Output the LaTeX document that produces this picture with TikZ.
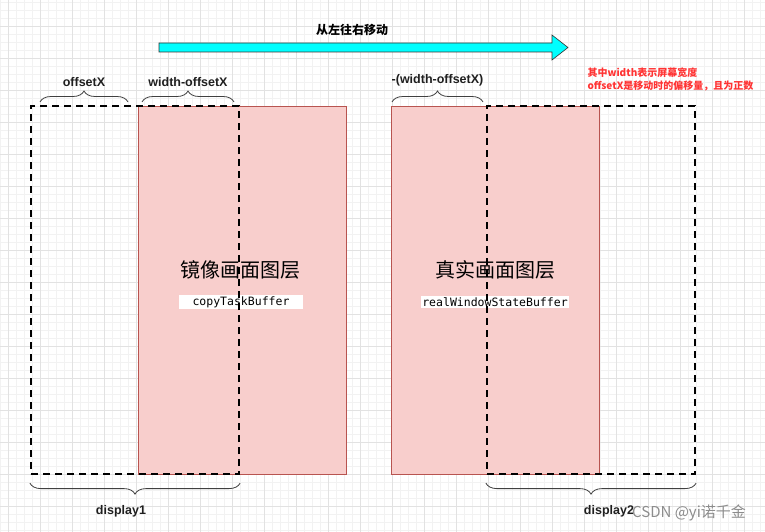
\documentclass[tikz,border=0pt]{standalone}
\usepackage{fontspec}
\setmainfont{Liberation Sans}
\newfontfamily\cjkfont{Noto Sans CJK SC}
\newfontfamily\monofont{DejaVu Sans Mono}
\usetikzlibrary{positioning,decorations.pathreplacing}
\definecolor{layerfill}{HTML}{F8CECC}
\definecolor{layerline}{HTML}{B85450}
\definecolor{gridminor}{HTML}{F2F2F2}
\definecolor{gridmajor}{HTML}{E2E2E2}
\definecolor{notered}{HTML}{FF3333}
\definecolor{arrowcyan}{HTML}{00FFFF}
\tikzset{
    layer/.style={
           rectangle,
           draw=layerline, fill=layerfill,
           minimum width=208pt, minimum height=368pt,
           inner sep=0pt,
           },
}
\tikzset{
    display/.style={
           rectangle,
           draw=black, line width=2.2pt,
           dash pattern=on 7pt off 5pt,
           minimum width=208pt, minimum height=368pt,
           inner sep=0pt,
           },
}
\tikzset{
    lbl/.style={font=\bfseries\fontsize{12.5}{14}\selectfont, text=black!88},
    title/.style={font=\cjkfont\fontsize{20}{24}\selectfont},
    buf/.style={font=\monofont\fontsize{11.5}{13}\selectfont, fill=white, inner sep=1.5pt, minimum width=124pt},
    brc/.style={decorate, decoration={brace, amplitude=11pt}, draw=black!75, line width=0.8pt},
}

\begin{document}
\begin{tikzpicture}[x=1pt,y=-1pt]
\useasboundingbox (0,0) rectangle (765,532);
% grid
\fill[white] (0,0) rectangle (765,532);
\foreach \i in {0,8,...,760} \draw[gridminor,line width=0.6pt] (\i,0) -- (\i,532);
\foreach \j in {2,10,...,530} \draw[gridminor,line width=0.6pt] (0,\j) -- (765,\j);
\foreach \i in {8,40,...,760} \draw[gridmajor,line width=0.8pt] (\i,0) -- (\i,532);
\foreach \j in {26,58,...,530} \draw[gridmajor,line width=0.8pt] (0,\j) -- (765,\j);

% moving arrow
\node[font=\cjkfont\bfseries\fontsize{12}{14}\selectfont] (move) at (352,30) {从左往右移动};
\draw[fill=arrowcyan,draw=black!80,line width=0.6pt] (159,43) -- (552,43) -- (552,35) -- (568,47.5)
  -- (552,60) -- (552,52) -- (159,52) -- cycle;

% note
\node[anchor=west,text=notered,font=\cjkfont\bfseries\fontsize{10}{13}\selectfont,align=left] (note) at (584,79)
  {其中width表示屏幕宽度\\offsetX是移动时的偏移量，且为正数};

% layers
\node[layer] (mirror) at (242,290) {};
\node[layer] (real) at (495,290) {};
\node[title] (mirrortxt) at (240,270) {镜像画面图层};
\node[buf] (mirrorbuf) at (241,302) {copyTaskBuffer};
\node[title] (realtxt) at (495,270) {真实画面图层};
\node[buf,minimum width=0pt] (realbuf) at (495,302) {realWindowStateBuffer};

% displays
\node[display] (display1) at (135,290) {};
\node[display] (display2) at (591,290) {};

% top braces
\coordinate (o1) at (40,102);
\coordinate (o2) at (128,102);
\coordinate (w1) at (142,102);
\coordinate (w2) at (234,102);
\coordinate (n1) at (392,102);
\coordinate (n2) at (483,102);
\draw[brc] (o1) -- (o2) node[midway,above=12pt,lbl] (offlbl) {offsetX};
\draw[brc] (w1) -- (w2) node[midway,above=12pt,lbl] (widlbl) {width-offsetX};
\draw[brc] (n1) -- (n2) node[midway,above=12pt,lbl] (neglbl) {-(width-offsetX)};

% bottom braces
\draw[brc,decoration={mirror}] ([yshift=-8pt]display1.south west) -- ([yshift=-8pt]display1.south east);
\draw[brc,decoration={mirror}] ([yshift=-8pt]display2.south west) -- ([yshift=-8pt]display2.south east);
\node[lbl] (d1lbl) at (121,511) {display1};
\node[lbl] (d2lbl) at (609,511) {display2};

\node[text=black!45,font=\cjkfont\fontsize{15}{17}\selectfont] (mark) at (689,513) {CSDN @yi诺千金};
\end{tikzpicture}
\end{document}
